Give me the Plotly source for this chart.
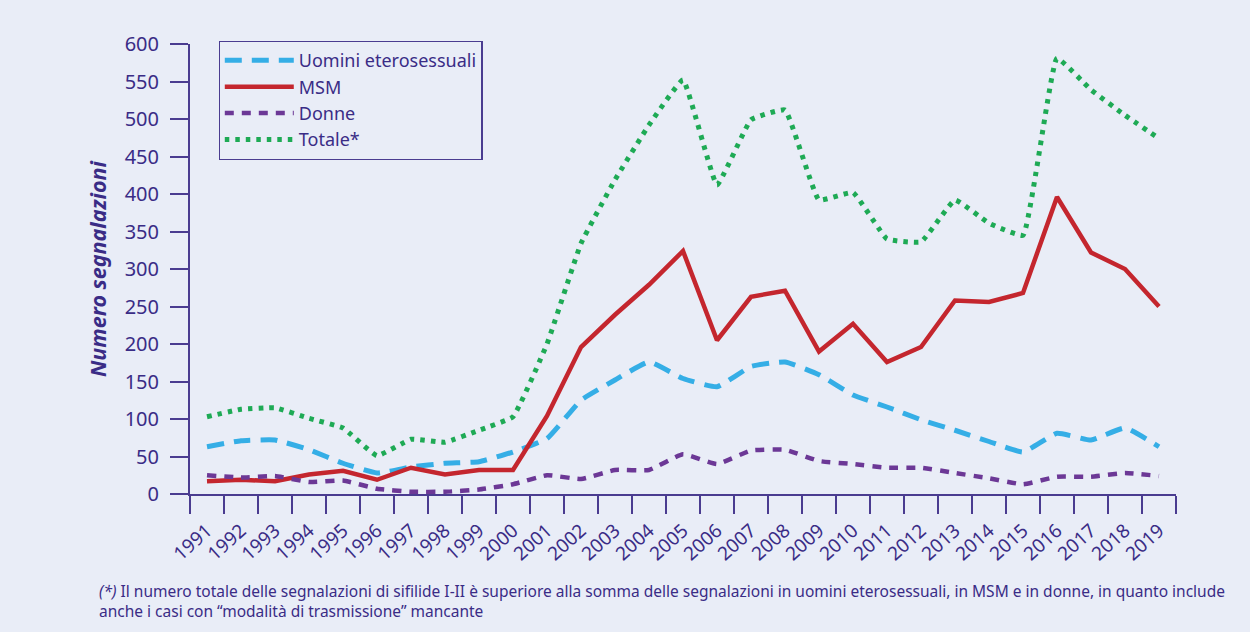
import plotly.graph_objects as go

anni = [str(y) for y in range(1991, 2020)]
uomini_etero = [63, 71, 72, 59, 41, 28, 36, 41, 43, 56, 74, 125, 152, 176, 154, 143, 170, 176, 159, 132, 116, 99, 85, 70, 56, 81, 72, 88, 63]
msm = [17, 19, 17, 26, 31, 19, 35, 26, 32, 32, 104, 196, 239, 279, 324, 205, 263, 271, 190, 227, 176, 196, 258, 256, 268, 396, 322, 300, 250]
donne = [25, 22, 24, 16, 18, 7, 3, 3, 6, 13, 25, 20, 32, 32, 53, 40, 58, 59, 44, 40, 35, 35, 28, 21, 13, 23, 23, 28, 24]
totale = [103, 113, 115, 101, 88, 51, 73, 69, 85, 103, 200, 334, 419, 492, 552, 412, 499, 512, 392, 402, 340, 336, 392, 361, 345, 581, 539, 505, 474]
y_ticks = list(range(0, 601, 50))

BG = "#E9EDF7"
TXT = "#3A2C86"
AX = "#4A3C90"
FONT = "Noto Sans"

fig = go.Figure()
fig.add_trace(go.Scatter(x=anni, y=uomini_etero, name="Uomini eterosessuali", mode="lines",
                         line=dict(color="#35AEE6", width=5, dash="17px,10px", shape="spline", smoothing=0.4)))
fig.add_trace(go.Scatter(x=anni, y=msm, name="MSM", mode="lines",
                         line=dict(color="#C4262E", width=4.5)))
fig.add_trace(go.Scatter(x=anni, y=donne, name="Donne", mode="lines",
                         line=dict(color="#6C3896", width=4.5, dash="9px,8px", shape="spline", smoothing=0.4)))
fig.add_trace(go.Scatter(x=anni, y=totale, name="Totale*", mode="lines",
                         line=dict(color="#1EAA55", width=5, dash="4.5px,6px", shape="spline", smoothing=0.3)))

fig.update_layout(
    width=1250, height=632,
    paper_bgcolor=BG, plot_bgcolor=BG,
    margin=dict(l=190, r=74, t=44, b=138, autoexpand=False),
    font=dict(family=FONT, color=TXT, size=18),
    showlegend=True,
    legend=dict(x=0.029, y=1.007, xanchor="left", yanchor="top",
                bgcolor=BG, bordercolor=AX, borderwidth=1.2,
                font=dict(size=18, color=TXT, family=FONT), itemwidth=69,
                tracegroupgap=0),
    xaxis=dict(type="category", tickson="boundaries", ticks="outside", ticklen=18,
               tickwidth=2, tickcolor=AX, showline=True, linecolor=AX, linewidth=2,
               showgrid=False, zeroline=False, tickangle=-42, ticklabelstandoff=16,
               tickfont=dict(size=19, color=TXT, family=FONT), range=[-0.5, 28.5]),
    yaxis=dict(range=[0, 600], tickvals=y_ticks, ticks="outside", ticklen=18,
               tickwidth=2, tickcolor=AX, showline=True, linecolor=AX, linewidth=2,
               showgrid=False, zeroline=False, ticklabelstandoff=7,
               tickfont=dict(size=20, color=TXT, family=FONT),
               title=dict(text="<b><i>Numero segnalazioni</i></b>", font=dict(size=21.5, color=TXT, family=FONT),
                          standoff=12)),
)

fig.add_annotation(
    xref="paper", yref="paper", x=-0.0943, y=-0.186, xanchor="left", yanchor="top",
    align="left", showarrow=False,
    text="<i>(*)</i> Il numero totale delle segnalazioni di sifilide I-II è superiore alla somma delle segnalazioni in uomini eterosessuali, in MSM e in donne, in quanto include<br>anche i casi con “modalità di trasmissione” mancante",
    font=dict(size=15.5, color=TXT, family=FONT),
)

fig.write_html("out.html", config={"displayModeBar": False},
               post_script="document.body.style.margin='0';document.body.style.background='#E9EDF7';")
